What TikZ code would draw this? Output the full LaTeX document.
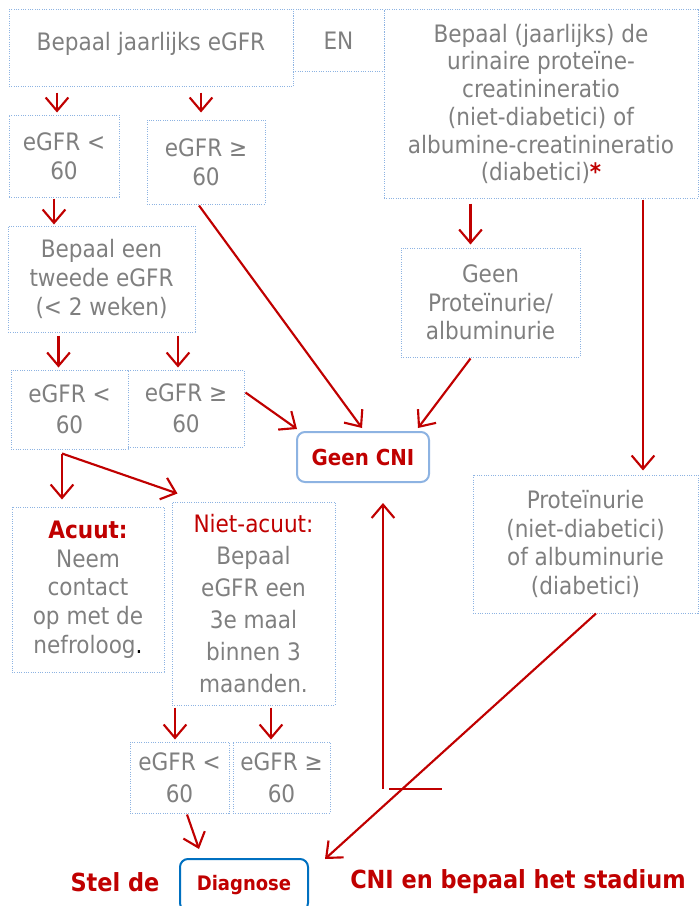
\documentclass[tikz,border=0pt]{standalone}
\usepackage{fontspec}
\setmainfont{DejaVu Sans Condensed}
\usepackage{tikz}
\usetikzlibrary{arrows.meta,calc,positioning}
\definecolor{rood}{HTML}{C00000}
\definecolor{grijs}{HTML}{7F7F7F}
\definecolor{lichtblauw}{HTML}{8DB3E2}
\definecolor{blauw}{HTML}{0070C0}

\begin{document}
\begin{tikzpicture}
	[x=0.75pt,y=-0.75pt,
	wh/.style 2 args={minimum width=#1*0.75pt,minimum height=#2*0.75pt},
	box/.style={draw=lichtblauw,densely dotted,line width=0.75pt,text=grijs,
		align=center,inner sep=0pt,font=\fontsize{18}{21.5}\selectfont},
	eind/.style={draw=#1,solid,rounded corners=6pt,line width=1.5pt,text=rood,
		inner sep=0pt,font=\bfseries\fontsize{16.5}{20}\selectfont},
	slot/.style={text=rood,inner sep=0pt,font=\bfseries\fontsize{18.7}{24}\selectfont},
	pijl/.style={rood,line width=1.6pt,-{Straight Barb[length=10pt,width=17pt]}},
	lijn/.style={rood,line width=1.6pt}]
	\path[use as bounding box] (0,0) rectangle (699,906);
	\clip (0,0) rectangle (699,906);
	%bovenste rij
	\node[box,wh={284}{77},text depth=10pt] (jaar) at (151,48.5) {Bepaal jaarlijks eGFR};
	\node[box,wh={91}{62}] (en) at (338.5,41) {EN};
	\node[box,wh={314}{188},font=\fontsize{18}{20.8}\selectfont] (urine) at (541,104)
		{Bepaal (jaarlijks) de\\urinaire proteïne-\\creatinineratio\\(niet-diabetici) of\\albumine-creatinineratio\\(diabetici){\color{rood}\bfseries*}};
	%eGFR takken
	\node[box,wh={110}{82}] (lt1) at (64,156) {eGFR <\\60};
	\node[box,wh={118}{84}] (ge1) at (206,162) {eGFR ≥\\60};
	\node[box,wh={187}{106}] (tweede) at (101.5,279) {Bepaal een\\tweede eGFR\\(< 2 weken)};
	\node[box,wh={117}{79},font=\fontsize{18}{23.5}\selectfont] (lt2) at (69.5,409.5) {eGFR <\\60};
	\node[box,wh={116}{77},font=\fontsize{18}{23.5}\selectfont] (ge2) at (186,408.5) {eGFR ≥\\60};
	\node[box,wh={152}{165}] (acuut) at (88,589.5)
		{{\color{rood}\bfseries Acuut:}\\Neem\\contact\\op met de\\nefroloog{\color{black}.}};
	\node[box,wh={163}{203},font=\fontsize{18}{24}\selectfont] (niet) at (253.5,603.5)
		{{\color{rood}Niet-acuut:}\\Bepaal\\eGFR een\\3e maal\\binnen 3\\maanden.};
	\node[box,wh={99}{71},font=\fontsize{18}{24}\selectfont] (lt3) at (179.5,777.5) {eGFR <\\60};
	\node[box,wh={97}{71},font=\fontsize{18}{24}\selectfont] (ge3) at (281.5,777.5) {eGFR ≥\\60};
	%proteinurie
	\node[box,wh={179}{109}] (geenprot) at (490.5,302.5) {Geen\\Proteïnurie/\\albuminurie};
	\node[box,wh={225}{138}] (prot) at (585.5,544) {Proteïnurie\\(niet-diabetici)\\of albuminurie\\(diabetici)};
	%uitkomsten
	\node[eind=lichtblauw,wh={132}{50}] (geencni) at (363,457) {Geen CNI};
	\node[eind=blauw,wh={128}{52},font=\bfseries\fontsize{15}{18}\selectfont] (diag) at (244,885) {Diagnose};
	\node[slot] (stel) at (115,882) {Stel de};
	\node[slot] (stadium) at (518,882) {CNI en bepaal het stadium};
	%pijlen
	\draw[pijl] ($(lt1.north |- jaar.south)+(-7,5)$) -- ($(lt1.north)+(-7,-2)$);
	\draw[pijl] ($(ge1.north |- jaar.south)+(-5,5)$) -- ($(ge1.north)+(-5,-7)$);
	\draw[pijl] ($(lt1.south)+(-10,1)$) -- ($(lt1.south |- tweede.north)+(-10,-1)$);
	\draw[pijl] ($(lt2.north |- tweede.south)+(-11,3)$) -- ($(lt2.north)+(-11,-2)$);
	\draw[pijl] ($(ge2.north |- tweede.south)+(-8,3)$) -- ($(ge2.north)+(-8,-2)$);
	\draw[pijl] ($(ge2.east)+(1,-16)$) -- ($(geencni.north west)+(1,-2)$);
	\draw[pijl] ($(ge1.south)+(-7,1)$) -- ($(geencni.north)+(-1,-3)$);
	\draw[pijl] ($(geenprot.south)+(-20,1)$) -- ($(geencni.north east)+(-12,-3)$);
	\draw[pijl] ($(geenprot.north |- urine.south)+(-20,5)$) -- ($(geenprot.north)+(-20,-3)$);
	\draw[pijl] ($(urine.south)+(102,1)$) -- ($(prot.north)+(57.5,-4)$);
	%splitsing acuut / niet-acuut
	\coordinate (split) at ($(lt2.south)+(-7.5,4)$);
	\draw[pijl] (split) -- ($(acuut.north)+(-26,-7)$);
	\draw[pijl] (split) -- ($(niet.north west)+(6,-8)$);
	\draw[pijl] ($(lt3.north |- niet.south)+(-4.5,2)$) -- ($(lt3.north)+(-4.5,-2)$);
	\draw[pijl] ($(ge3.north |- niet.south)+(-10.5,2)$) -- ($(ge3.north)+(-10.5,-2)$);
	\draw[pijl] ($(lt3.south)+(7.5,1)$) -- ($(diag.north)+(-45,-9)$);
	\draw[pijl] ($(prot.south)+(10.5,0)$) -- ($(diag.north east)+(16,1)$);
	%terug naar geen CNI
	\coordinate (haak) at (383,789);
	\draw[pijl] (haak) -- ($(geencni.south)+(20,20)$);
	\draw[lijn] ($(haak)+(6,0)$) -- ($(haak)+(59,0)$);
\end{tikzpicture}
\end{document}
